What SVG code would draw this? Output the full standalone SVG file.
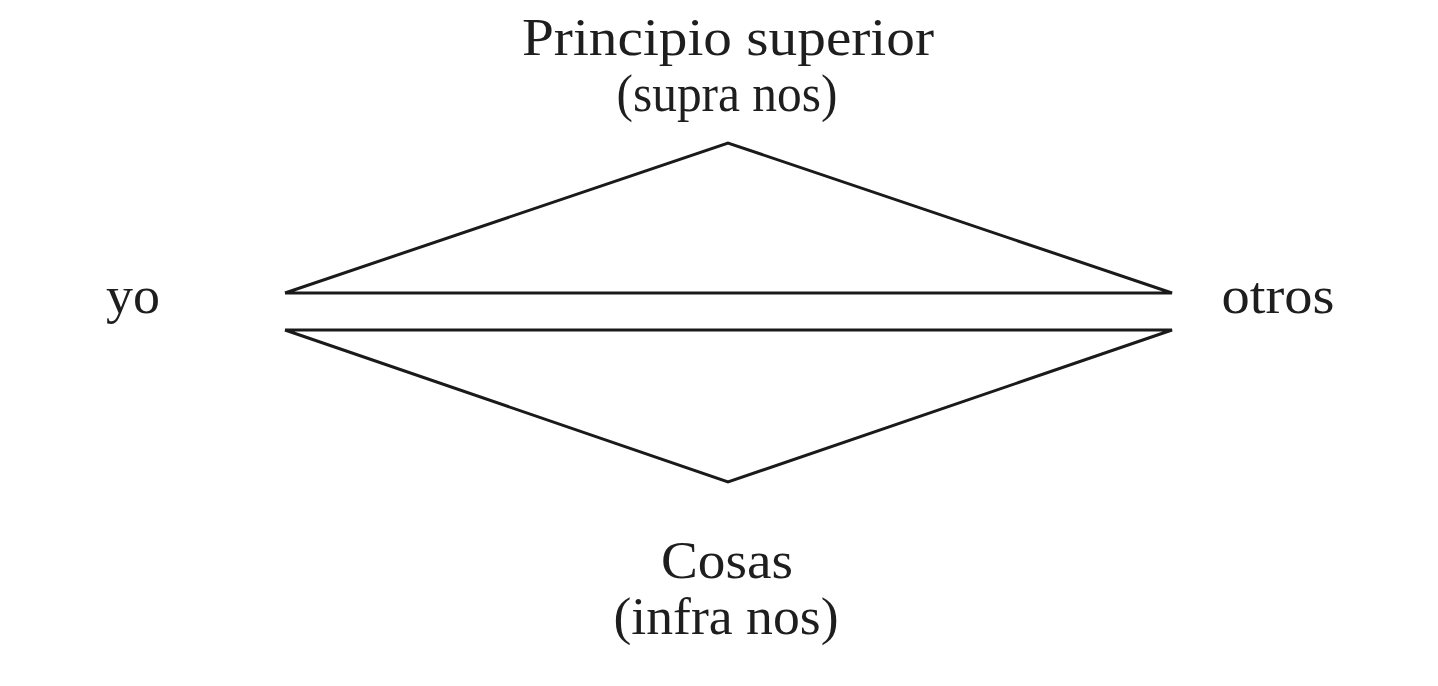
<svg xmlns="http://www.w3.org/2000/svg" width="1438" height="686" viewBox="0 0 1438 686">
<style>
.lbl{font-family:"Liberation Serif","Times New Roman",serif;font-size:52px;fill:#1e1e1e;text-anchor:middle}
.ln{fill:none;stroke:#1a1a1a;stroke-width:3;stroke-linejoin:miter}
</style>
<rect width="1438" height="686" fill="#ffffff"/>
<g id="top"><text class="lbl" x="728" y="55" textLength="412" lengthAdjust="spacingAndGlyphs">Principio superior</text><text class="lbl" x="727" y="111" textLength="221" lengthAdjust="spacingAndGlyphs">(supra nos)</text></g>
<g id="yo"><text class="lbl" x="133" y="313" textLength="54" lengthAdjust="spacingAndGlyphs">yo</text></g>
<g id="otros"><text class="lbl" x="1278" y="313" textLength="113" lengthAdjust="spacingAndGlyphs">otros</text></g>
<g id="bottom"><text class="lbl" x="727" y="578" textLength="132" lengthAdjust="spacingAndGlyphs">Cosas</text><text class="lbl" x="726" y="634" textLength="225" lengthAdjust="spacingAndGlyphs">(infra nos)</text></g>
<g id="connectors">
<polyline class="ln" points="285,293 728,143 1172,293 285,293"/>
<polyline class="ln" points="285,330 728,482 1172,330 285,330"/>
</g>
</svg>
